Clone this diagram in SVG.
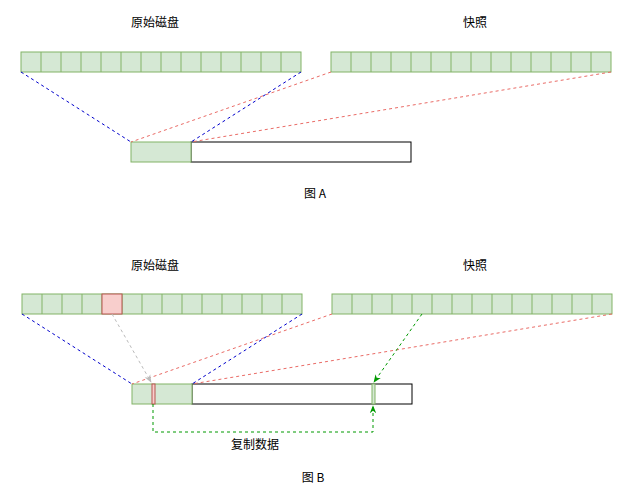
<svg xmlns="http://www.w3.org/2000/svg" width="633" height="495" viewBox="0 0 633 495">
<style>
.c{fill:#d5e8d4;stroke:#82b366;stroke-width:1}
.r{fill:#f8cecc;stroke:#b85450;stroke-width:1}
.w{fill:#fff;stroke:#000;stroke-width:1}
.t{font-family:"Noto Sans CJK SC","Liberation Sans",sans-serif;font-size:12px;text-anchor:middle;fill:#000}
.b{stroke:#0000cc;stroke-dasharray:3 3;fill:none}
.rd{stroke:#ea6b66;stroke-dasharray:3 3;fill:none}
.g{stroke:#009900;stroke-dasharray:3 3;fill:none}
.gr{stroke:#bbb;stroke-dasharray:3 3;fill:none}
</style>
<defs>
<marker id="ag" viewBox="0 0 10 10" refX="9" refY="5" markerWidth="8" markerHeight="8" orient="auto"><path d="M0,1 L10,5 L0,9 L3,5z" fill="#009900"/></marker>
<marker id="agr" viewBox="0 0 10 10" refX="9" refY="5" markerWidth="8" markerHeight="8" orient="auto"><path d="M0,1 L10,5 L0,9 L3,5z" fill="#bbb"/></marker>
<pattern id="cells" width="20" height="20" patternUnits="userSpaceOnUse"><rect x="0" y="0" width="20" height="20" class="c"/></pattern>
</defs>
<g id="diskA">
<rect x="21" y="52" width="280" height="20" class="c"/>
<path d="M41 52v20M61 52v20M81 52v20M101 52v20M121 52v20M141 52v20M161 52v20M181 52v20M201 52v20M221 52v20M241 52v20M261 52v20M281 52v20" stroke="#82b366"/>
</g>
<g id="snapA">
<rect x="331" y="52" width="280" height="20" class="c"/>
<path d="M351 52v20M371 52v20M391 52v20M411 52v20M431 52v20M451 52v20M471 52v20M491 52v20M511 52v20M531 52v20M551 52v20M571 52v20M591 52v20" stroke="#82b366"/>
</g>
<g id="volA">
<rect x="191" y="142" width="220" height="20" class="w"/>
<rect x="131" y="142" width="60" height="20" class="c"/>
</g>
<text class="t" x="155" y="27">原始磁盘</text>
<text class="t" x="475" y="27">快照</text>
<text class="t" x="315" y="198">图 A</text>
<g id="diskB">
<rect x="22" y="294" width="280" height="20" class="c"/>
<path d="M42 294v20M62 294v20M82 294v20M102 294v20M122 294v20M142 294v20M162 294v20M182 294v20M202 294v20M222 294v20M242 294v20M262 294v20M282 294v20" stroke="#82b366"/>
<rect x="102" y="294" width="20" height="20" class="r"/>
</g>
<g id="snapB">
<rect x="332" y="294" width="280" height="20" class="c"/>
<path d="M352 294v20M372 294v20M392 294v20M412 294v20M432 294v20M452 294v20M472 294v20M492 294v20M512 294v20M532 294v20M552 294v20M572 294v20M592 294v20" stroke="#82b366"/>
</g>
<g id="volB">
<rect x="192" y="384" width="220" height="20" class="w"/>
<rect x="132" y="384" width="60" height="20" class="c"/>
<rect x="152" y="384" width="3" height="20" class="r"/>
<rect x="372" y="384" width="3" height="20" class="c"/>
</g>
<text class="t" x="155" y="270">原始磁盘</text>
<text class="t" x="475" y="270">快照</text>
<text class="t" x="255" y="449">复制数据</text>
<text class="t" x="313" y="482">图 B</text>
<g id="connectors">
<path class="b" d="M21 72L131 142M301 72L191 142"/>
<path class="rd" d="M331 72L131 142M611 72L191 142"/>
<path class="b" d="M22 314L132 384M302 314L192 384"/>
<path class="rd" d="M332 314L132 384M612 314L192 384"/>
<path class="gr" d="M112 314L151 382" marker-end="url(#agr)"/>
<path class="g" d="M422 314L374 382" marker-end="url(#ag)"/>
<path class="g" d="M153 404V432H373V406" marker-end="url(#ag)"/>
</g>
</svg>
